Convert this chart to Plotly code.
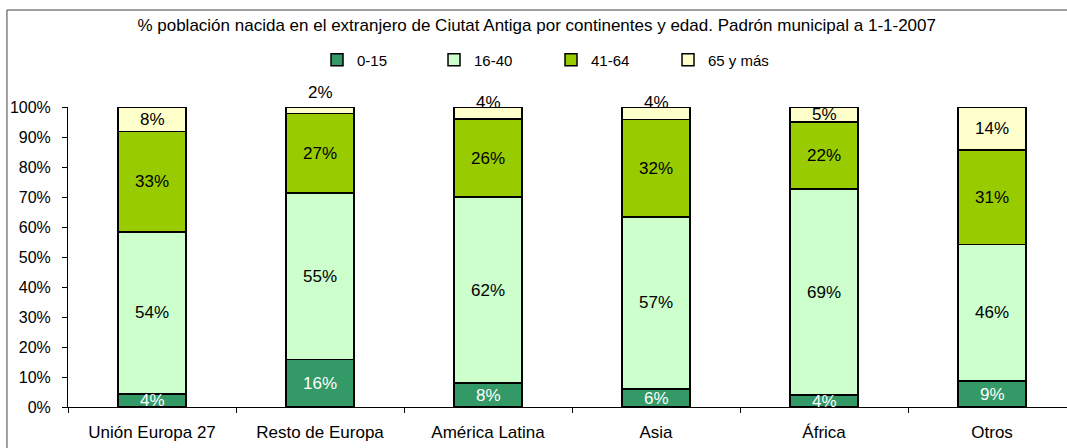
import plotly.graph_objects as go

categories = ["Unión Europa 27", "Resto de Europa", "América Latina", "Asia", "África", "Otros"]
age_groups = ["0-15", "16-40", "41-64", "65 y más"]
v_0_15 = [4.4, 15.9, 8.0, 6.0, 4.0, 8.6]
v_16_40 = [54.0, 55.4, 62.0, 57.4, 68.6, 45.6]
v_41_64 = [33.4, 26.6, 26.0, 32.4, 22.4, 31.4]
v_65 = [8.2, 2.1, 4.0, 4.2, 5.0, 14.4]
y_ticks = [0, 10, 20, 30, 40, 50, 60, 70, 80, 90, 100]
y_tick_text = [f"{v}%" for v in y_ticks]

series = [v_0_15, v_16_40, v_41_64, v_65]
colors = ["#339966", "#CCFFCC", "#99CC00", "#FFFFCC"]
label_colors = ["white", "black", "black", "black"]
# vertical nudges (px) for small top labels, per category, for the last series
top_label_shift = [0, 18, 11, 11, 0, 0]

FONT = "Liberation Sans, Arial, sans-serif"

fig = go.Figure()
for name, vals, col in zip(age_groups, series, colors):
    fig.add_trace(go.Bar(
        x=categories, y=vals, name=name,
        marker=dict(color=col, line=dict(color="black", width=1.5)),
        hoverinfo="skip",
    ))

annotations = []
cum = [0.0] * len(categories)
for si, (vals, lc) in enumerate(zip(series, label_colors)):
    for ci, v in enumerate(vals):
        center = cum[ci] + v / 2
        shift = top_label_shift[ci] if si == len(series) - 1 else 0
        annotations.append(dict(
            x=categories[ci], y=center, xref="x", yref="y",
            text=f"{round(v):d}%", showarrow=False, yshift=shift,
            font=dict(family=FONT, size=17, color=lc),
        ))
        cum[ci] += v

fig.update_layout(
    width=1067, height=448,
    margin=dict(l=68, r=0, t=107, b=41, autoexpand=False),
    paper_bgcolor="white", plot_bgcolor="white",
    barmode="stack", bargap=0.595,
    font=dict(family=FONT, size=15, color="black"),
    title=dict(
        text="% población nacida en el extranjero de Ciutat Antiga por continentes y edad. Padrón municipal a 1-1-2007",
        x=0.503, xanchor="center", y=0.944, yanchor="middle",
        font=dict(family=FONT, size=17, color="black"),
    ),
    legend=dict(
        orientation="h", x=0.4835, xanchor="center", y=1.157, yanchor="middle",
        font=dict(family=FONT, size=15), traceorder="normal",
        entrywidth=72, entrywidthmode="pixels",
        bgcolor="rgba(0,0,0,0)",
    ),
    xaxis=dict(
        type="category", range=[-0.5, 5.446],
        showline=True, linecolor="black", linewidth=1,
        ticks="outside", tickson="boundaries", ticklen=5, tickcolor="black",
        ticklabelstandoff=10, tickfont=dict(family=FONT, size=17),
        showgrid=False, zeroline=False, fixedrange=True,
    ),
    yaxis=dict(
        range=[0, 100], tickmode="array", tickvals=y_ticks, ticktext=y_tick_text,
        showline=True, linecolor="black", linewidth=1,
        ticks="outside", ticklen=5, tickcolor="black",
        ticklabelstandoff=8, tickfont=dict(family=FONT, size=16),
        showgrid=False, zeroline=False, fixedrange=True,
    ),
    annotations=annotations,
    shapes=[dict(
        type="rect", xref="paper", yref="paper",
        x0=-0.0611, x1=1.05, y0=-0.4, y1=1.3233,
        line=dict(color="#404040", width=1), fillcolor="rgba(0,0,0,0)",
        layer="below",
    )],
)

fig.write_html(
    "out.html",
    config={"displayModeBar": False},
    post_script="document.body.style.margin='0';document.body.style.padding='0';",
)
